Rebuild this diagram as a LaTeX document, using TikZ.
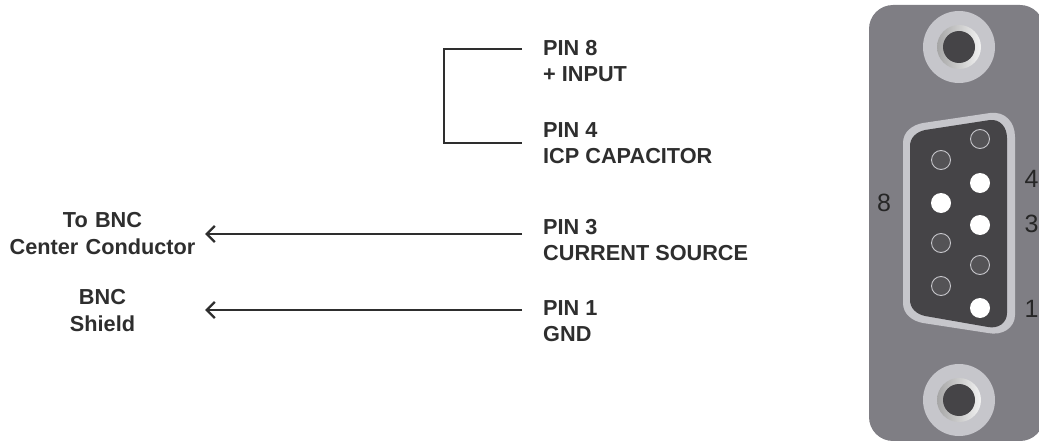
\documentclass[tikz,border=0pt]{standalone}
\usepackage{fontspec}
\setmainfont{Liberation Sans}
\usepackage{xcolor}
\usetikzlibrary{arrows.meta}

\definecolor{panelgray}{HTML}{7F7E84}
\definecolor{shellgray}{HTML}{C6C6CB}
\definecolor{socketdark}{HTML}{454447}
\definecolor{wirecolor}{HTML}{2E2E2E}

\tikzset{
    pinlabel/.style={anchor=west,inner sep=0pt,align=left,text=wirecolor,font=\fontsize{21.7}{25.5}\selectfont\bfseries},
    bnclabel/.style={inner sep=0pt,text width=205pt,align=center,text=wirecolor,font=\fontsize{21.7}{27}\selectfont\bfseries},
    wire/.style={wirecolor,line width=2.2pt},
    pinnumber/.style={inner sep=0pt,text=black!85,font=\fontsize{25}{25}\selectfont},
    fullpin/.style={fill=white,draw=none},
    emptypin/.style={fill=socketdark!92!white,draw=shellgray,line width=0.9pt},
}

\begin{document}
\begin{tikzpicture}[x=1pt,y=-1pt]
\useasboundingbox (0,0) rectangle (1039,441);

% Placa do conector
\fill[panelgray,rounded corners=24pt] (869,5) rectangle (1044,441);

% Parafusos
\foreach \sy in {47,400} {
    \fill[shellgray] (959,\sy) circle (36);
    \shade[left color=gray!70,right color=gray!10] (959,\sy) circle (22);
    \fill[socketdark] (959,\sy) circle (16);
}

% Carcaca do conector
\fill[shellgray] (923,123) -- (990,113) .. controls (1005,111) and (1015,122) .. (1015,137)
    -- (1015,315) .. controls (1015,328) and (1002,336) .. (988,333)
    -- (923,323) .. controls (912,321) and (903,314) .. (903,303)
    -- (903,143) .. controls (903,132) and (912,125) .. (923,123) -- cycle;
\fill[socketdark] (925,130) -- (990,120) .. controls (1000,119) and (1007,127) .. (1007,138)
    -- (1007,313) .. controls (1007,323) and (998,329) .. (988,327)
    -- (925,316) .. controls (916,314) and (910,308) .. (910,300)
    -- (910,146) .. controls (910,138) and (916,132) .. (925,130) -- cycle;

% Pinos
\foreach \px/\py in {980/183,941/203,980/225,980/308}
    \fill[fullpin] (\px,\py) circle (10);
\foreach \px/\py in {980/139,941/160,941/243,980/265,941/286}
    \filldraw[emptypin] (\px,\py) circle (9.5);

% Numeros dos pinos
\node[pinnumber] (num8) at (884,203) {8};
\node[pinnumber] (num4) at (1031.5,179) {4};
\node[pinnumber] (num3) at (1031.5,224) {3};
\node[pinnumber] (num1) at (1031.5,309) {1};

% Textos
\node[pinlabel] (pin8) at (543,61) {PIN 8\\+ INPUT};
\node[pinlabel] (pin4) at (543,143) {PIN 4\\ICP CAPACITOR};
\node[pinlabel] (pin3) at (543,240) {PIN 3\\CURRENT SOURCE};
\node[pinlabel] (pin1) at (543,321) {PIN 1\\GND};
\node[bnclabel] (bnccenter) at (102.5,234) {To BNC\\Center Conductor};
\node[bnclabel] (bncshield) at (102.5,311) {BNC\\Shield};

% Pontas livres dos fios
\coordinate (pin8end) at ([shift={(-21,-12)}]pin8.west);
\coordinate (pin4end) at ([shift={(-21,0)}]pin4.west);
\coordinate (pin3end) at ([shift={(-21,-6)}]pin3.west);
\coordinate (pin1end) at ([shift={(-21,-11)}]pin1.west);
\coordinate (jumper) at (444,0);

% Fios
\draw[wire] (pin8end) -- (pin8end -| jumper) -- (pin4end -| jumper) -- (pin4end);
\draw[wire,-{Straight Barb[length=8pt,width=16pt]}] (pin3end) -- (pin3end -| bnccenter.east);
\draw[wire,-{Straight Barb[length=8pt,width=16pt]}] (pin1end) -- (pin1end -| bncshield.east);

\end{tikzpicture}
\end{document}
